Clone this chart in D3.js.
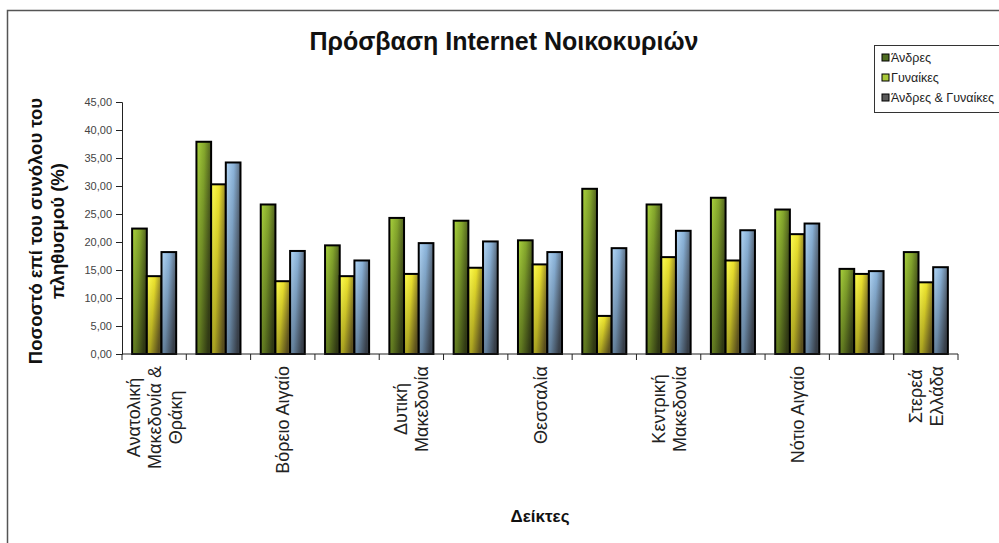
<!DOCTYPE html>
<html>
<head>
<meta charset="utf-8">
<script src="https://cdn.jsdelivr.net/npm/d3@7"></script>
<style>
  body { margin: 0; background: #fff; }
  svg { display: block; font-family: "Liberation Sans", Arial, sans-serif; }
  .y.axis text { font-size: 11px; fill: #444; }
  .axis path, .axis line { stroke: #222; }
</style>
</head>
<body>
<div id="chart"></div>
<script>
// regions (only every second one gets a visible label, as in the original)
var categories = [
    "Ανατολική Μακεδονία & Θράκη", "Αττική", "Βόρειο Αιγαίο", "Δυτική Ελλάδα",
    "Δυτική Μακεδονία", "Ήπειρος", "Θεσσαλία", "Ιόνια Νησιά",
    "Κεντρική Μακεδονία", "Κρήτη", "Νότιο Αιγαίο", "Πελοπόννησος", "Στερεά Ελλάδα"
];
var labelLines = [
    ["Ανατολική", "Μακεδονία &", "Θράκη"], [], ["Βόρειο Αιγαίο"], [],
    ["Δυτική", "Μακεδονία"], [], ["Θεσσαλία"], [],
    ["Κεντρική", "Μακεδονία"], [], ["Νότιο Αιγαίο"], [], ["Στερεά", "Ελλάδα"]
];
var series = ["Άνδρες", "Γυναίκες", "Άνδρες & Γυναίκες"];
var andres   = [22.4, 37.9, 26.7, 19.4, 24.3, 23.8, 20.3, 29.5, 26.7, 27.9, 25.8, 15.2, 18.2];
var gynaikes = [13.9, 30.3, 13.0, 13.9, 14.3, 15.4, 16.0, 6.8, 17.3, 16.7, 21.4, 14.3, 12.8];
var synolo   = [18.2, 34.2, 18.4, 16.7, 19.8, 20.1, 18.2, 18.9, 22.0, 22.1, 23.3, 14.8, 15.5];
var yTicks = [0, 5, 10, 15, 20, 25, 30, 35, 40, 45];

var width = 999, height = 543,
    margins = {top: 102, right: 41, bottom: 189, left: 122};

var svg = d3.select("#chart").append("svg")
    .attr("width", width)
    .attr("height", height);

// gradients, light on the left/top, dark towards the right/bottom
var defs = svg.append("defs");
var grads = [
    {id: "g0", stops: ["#abd43e", "#84a62c", "#44501c"]},
    {id: "g1", stops: ["#ffff55", "#ece22c", "#7d6e2a"]},
    {id: "g2", stops: ["#b4d8f8", "#8ab2d8", "#4e5866"]}
];
grads.forEach(function(g) {
    var lg = defs.append("linearGradient")
        .attr("id", g.id)
        .attr("x1", 0).attr("y1", 0).attr("x2", 1).attr("y2", 0.35);
    lg.append("stop").attr("offset", "0%").attr("stop-color", g.stops[0]);
    lg.append("stop").attr("offset", "50%").attr("stop-color", g.stops[1]);
    lg.append("stop").attr("offset", "100%").attr("stop-color", g.stops[2]);
});
var shade = defs.append("linearGradient")
    .attr("id", "shade").attr("x1", 0).attr("y1", 0).attr("x2", 0).attr("y2", 1);
shade.append("stop").attr("offset", "0%").attr("stop-color", "#000").attr("stop-opacity", 0);
shade.append("stop").attr("offset", "100%").attr("stop-color", "#000").attr("stop-opacity", 0.3);

// outer frame
svg.append("path")
    .attr("d", "M7.5," + height + "V10.5H" + width)
    .attr("fill", "none")
    .attr("stroke", "#555")
    .attr("stroke-width", 1.5);

var x = d3.scaleBand()
    .domain(categories)
    .range([margins.left, width - margins.right]);

var xSub = d3.scaleBand()
    .domain(series)
    .range([0, x.bandwidth()])
    .paddingOuter(0.69);

var y = d3.scaleLinear()
    .domain([0, 45])
    .range([height - margins.bottom, margins.top]);

var data = categories.map(function(c, i) {
    return {cat: c, values: [andres[i], gynaikes[i], synolo[i]]};
});

var groups = svg.append("g").attr("class", "bars")
    .selectAll("g")
    .data(data)
    .enter().append("g")
    .attr("transform", function(d) { return "translate(" + x(d.cat) + ",0)"; });

groups.selectAll("g.bar")
    .data(function(d) {
        return d.values.map(function(v, k) { return {s: series[k], k: k, v: v}; });
    })
    .enter().append("g")
    .attr("class", "bar")
    .each(function(d) {
        var g = d3.select(this);
        g.append("rect")
            .attr("x", xSub(d.s))
            .attr("y", y(d.v))
            .attr("width", xSub.bandwidth())
            .attr("height", y(0) - y(d.v))
            .attr("fill", "url(#g" + d.k + ")");
        g.append("rect")
            .attr("x", xSub(d.s))
            .attr("y", y(d.v))
            .attr("width", xSub.bandwidth())
            .attr("height", y(0) - y(d.v))
            .attr("fill", "url(#shade)")
            .attr("stroke", "#000")
            .attr("stroke-width", 2);
    });

// y axis
var yAxis = d3.axisLeft(y)
    .tickValues(yTicks)
    .tickSize(6)
    .tickPadding(4)
    .tickFormat(function(d) { return d.toFixed(2).replace(".", ","); });

svg.append("g")
    .attr("class", "y axis")
    .attr("transform", "translate(" + margins.left + ",0)")
    .call(yAxis);

// x axis line with ticks on category boundaries
var xAxisG = svg.append("g").attr("class", "x axis");
xAxisG.append("line")
    .attr("x1", x.range()[0]).attr("x2", x.range()[1])
    .attr("y1", y(0)).attr("y2", y(0))
    .attr("stroke", "#222");
var bounds = categories.map(function(c) { return x(c); }).concat([x.range()[1]]);
xAxisG.selectAll("line.tick")
    .data(bounds)
    .enter().append("line")
    .attr("class", "tick")
    .attr("x1", function(d) { return d; })
    .attr("x2", function(d) { return d; })
    .attr("y1", y(0))
    .attr("y2", y(0) + 6)
    .attr("stroke", "#222");

// rotated category labels, lines centred on each other
var lineGap = 21;
categories.forEach(function(c, i) {
    var lines = labelLines[i];
    if (!lines.length) return;
    var cx = x(c) + x.bandwidth() / 2;
    var lab = xAxisG.append("g");
    var texts = lines.map(function(t, j) {
        return lab.append("text")
            .attr("font-size", 18)
            .attr("fill", "#222")
            .attr("text-anchor", "middle")
            .text(t);
    });
    var maxLen = d3.max(texts, function(t) { return t.node().getComputedTextLength(); });
    var cy = y(0) + 12 + maxLen / 2;
    texts.forEach(function(t, j) {
        var px = cx + (j - (lines.length - 1) / 2) * lineGap + 6.5;
        t.attr("transform", "translate(" + px + "," + cy + ") rotate(-90)");
    });
});

// titles
svg.append("text")
    .attr("x", 504)
    .attr("y", 50)
    .attr("text-anchor", "middle")
    .attr("font-size", 25)
    .attr("font-weight", "bold")
    .attr("fill", "#111")
    .text("Πρόσβαση Internet Νοικοκυριών");

var yTitle = svg.append("text")
    .attr("transform", "translate(42,231) rotate(-90)")
    .attr("text-anchor", "middle")
    .attr("font-size", 18.5)
    .attr("font-weight", "bold")
    .attr("fill", "#111");
yTitle.append("tspan").attr("x", 0).attr("dy", 0).text("Ποσοστό επί του συνόλου του");
yTitle.append("tspan").attr("x", 0).attr("dy", 22).text("πληθυσμού (%)");

svg.append("text")
    .attr("x", 540)
    .attr("y", 522)
    .attr("text-anchor", "middle")
    .attr("font-size", 17)
    .attr("font-weight", "bold")
    .attr("fill", "#111")
    .text("Δείκτες");

// legend
var legend = svg.append("g").attr("transform", "translate(874,45)");
legend.append("rect")
    .attr("x", 0.5).attr("y", 0.5)
    .attr("width", 140).attr("height", 67)
    .attr("fill", "#fff")
    .attr("stroke", "#333");
var swatch = ["#4f6d22", "#a8c83a", "#5a5a5a"];
series.forEach(function(s, i) {
    var row = legend.append("g").attr("transform", "translate(8," + (13 + i * 20) + ")");
    row.append("rect")
        .attr("x", 0).attr("y", -4)
        .attr("width", 7).attr("height", 7)
        .attr("fill", swatch[i])
        .attr("stroke", "#000");
    row.append("text")
        .attr("x", 9).attr("y", 4)
        .attr("font-size", 12.5)
        .attr("fill", "#222")
        .text(s);
});
</script>
</body>
</html>
